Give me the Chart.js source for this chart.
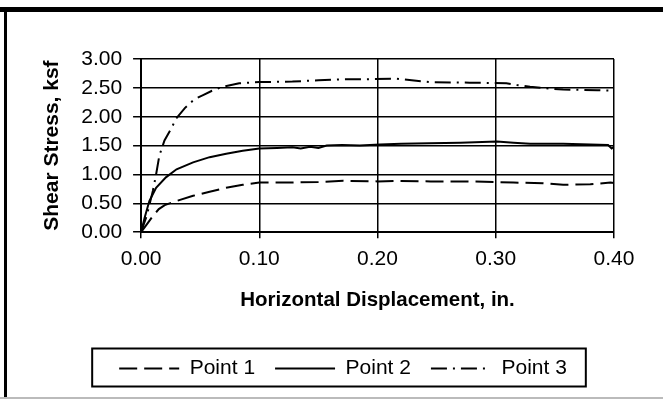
<!DOCTYPE html>
<html>
<head>
<meta charset="utf-8">
<script src="https://cdn.jsdelivr.net/npm/chart.js@4.4.1/dist/chart.umd.min.js"></script>
<style>
  html, body { margin: 0; padding: 0; background: #fff; }
  #wrap { position: relative; width: 663px; height: 399px; }
</style>
</head>
<body>
<div id="wrap"><canvas id="shearChart" width="663" height="399"></canvas></div>
<script>
// values
const seriesNames = ["Point 1", "Point 2", "Point 3"];
const xTicks = [0, 0.1, 0.2, 0.3, 0.4];
const yTicks = [0, 0.5, 1.0, 1.5, 2.0, 2.5, 3.0];

const p1X = [0, 0.005, 0.01, 0.015, 0.02, 0.03, 0.044, 0.058, 0.072, 0.086, 0.10, 0.128, 0.15, 0.171, 0.20, 0.216, 0.245, 0.272, 0.30, 0.315, 0.34, 0.357, 0.38, 0.397, 0.40];
const p1Y = [0, 0.14, 0.28, 0.40, 0.47, 0.54, 0.63, 0.70, 0.77, 0.82, 0.86, 0.86, 0.87, 0.89, 0.88, 0.89, 0.88, 0.88, 0.87, 0.86, 0.85, 0.82, 0.83, 0.86, 0.85];

const p2X = [0, 0.003, 0.007, 0.0127, 0.021, 0.03, 0.044, 0.058, 0.072, 0.086, 0.10, 0.115, 0.128, 0.135, 0.143, 0.15, 0.157, 0.17, 0.185, 0.202, 0.22, 0.244, 0.27, 0.301, 0.315, 0.329, 0.357, 0.38, 0.395, 0.398, 0.40];
const p2Y = [0, 0.25, 0.54, 0.77, 0.95, 1.09, 1.21, 1.30, 1.36, 1.41, 1.45, 1.46, 1.47, 1.45, 1.48, 1.46, 1.50, 1.51, 1.50, 1.52, 1.53, 1.54, 1.55, 1.57, 1.55, 1.53, 1.53, 1.52, 1.51, 1.45, 1.48];

const p3X = [0, 0.005, 0.01, 0.0127, 0.0155, 0.0198, 0.0254, 0.0297, 0.037, 0.045, 0.052, 0.06, 0.069, 0.083, 0.10, 0.128, 0.15, 0.171, 0.19, 0.216, 0.244, 0.278, 0.309, 0.318, 0.329, 0.345, 0.357, 0.386, 0.40];
const p3Y = [0, 0.30, 0.72, 1.00, 1.33, 1.59, 1.79, 1.97, 2.15, 2.30, 2.37, 2.45, 2.52, 2.58, 2.60, 2.61, 2.63, 2.65, 2.65, 2.66, 2.60, 2.59, 2.58, 2.55, 2.52, 2.49, 2.47, 2.46, 2.45];

function pairs(xs, ys) {
  return xs.map((x, i) => ({ x: x, y: ys[i] }));
}

const FONT = "'Liberation Sans', Arial, sans-serif";
const LEGEND_SIZE = 21;
const SAMPLE_W = 60;
const ITEM_GAP = 20;

// scanned frame (thick top and left edges) and the box round the legend
const framePlugin = {
  id: "frame",
  afterLayout(chart) {
    // legend sits a little right of centre in the original
    chart.legend.left += 30;
    chart.legend.right += 30;
  },
  afterDraw(chart) {
    const ctx = chart.ctx;
    ctx.save();
    ctx.fillStyle = "#000";
    ctx.fillRect(0, 7, chart.width, 5);
    ctx.fillRect(4, 7, 3, chart.height - 7);
    ctx.fillStyle = "#bbb";
    ctx.fillRect(0, chart.height - 2, chart.width, 2);

    const lg = chart.legend;
    ctx.font = LEGEND_SIZE + "px " + FONT;
    let total = ITEM_GAP * (seriesNames.length - 1);
    seriesNames.forEach(n => { total += SAMPLE_W + LEGEND_SIZE / 2 + ctx.measureText(n).width; });
    const start = (lg.left + lg.right) / 2 - total / 2;
    const left = start - 27;
    const right = start + total + 19;
    const mid = lg.top + lg.height / 2 + 4;
    ctx.strokeStyle = "#000";
    ctx.lineWidth = 2;
    ctx.strokeRect(left, mid - 19, right - left, 38);
    ctx.restore();
  }
};

new Chart(document.getElementById("shearChart").getContext("2d"), {
  type: "line",
  data: {
    datasets: [
      {
        label: seriesNames[0],
        data: pairs(p1X, p1Y),
        borderColor: "#000",
        borderWidth: 2,
        borderDash: [18, 7],
      },
      {
        label: seriesNames[1],
        data: pairs(p2X, p2Y),
        borderColor: "#000",
        borderWidth: 2,
      },
      {
        label: seriesNames[2],
        data: pairs(p3X, p3Y),
        borderColor: "#000",
        borderWidth: 2,
        borderDash: [16, 6, 2, 6],
      },
    ],
  },
  options: {
    responsive: false,
    animation: false,
    elements: { point: { radius: 0 }, line: { tension: 0 } },
    layout: { padding: { left: 12, right: 49, top: 59, bottom: 10 } },
    plugins: {
      tooltip: { enabled: false },
      legend: {
        position: "bottom",
        labels: {
          color: "#000",
          font: { family: FONT, size: LEGEND_SIZE },
          usePointStyle: true,
          pointStyle: "line",
          pointStyleWidth: SAMPLE_W,
          padding: ITEM_GAP,
          generateLabels(chart) {
            return chart.data.datasets.map((ds, i) => ({
              text: ds.label,
              datasetIndex: i,
              fillStyle: "#000",
              strokeStyle: "#000",
              lineWidth: 2,
              lineDash: ds.borderDash || [],
              pointStyle: "line",
              fontColor: "#000",
              hidden: false,
            }));
          },
        },
      },
    },
    scales: {
      x: {
        type: "linear",
        min: 0,
        max: 0.4,
        afterBuildTicks: (scale) => { scale.ticks = xTicks.map(v => ({ value: v })); },
        ticks: {
          color: "#000",
          font: { family: FONT, size: 21 },
          padding: 8,
          maxRotation: 0,
          callback: (v) => Number(v).toFixed(2),
        },
        grid: { color: "#000", lineWidth: 1.5, tickLength: 6, tickColor: "#000" },
        border: { color: "#000", width: 2 },
        title: {
          display: true,
          text: "Horizontal Displacement, in.",
          color: "#000",
          font: { family: FONT, size: 20.5, weight: "bold" },
          padding: { top: 9, bottom: 25 },
        },
      },
      y: {
        min: 0,
        max: 3,
        afterBuildTicks: (scale) => { scale.ticks = yTicks.map(v => ({ value: v })); },
        ticks: {
          color: "#000",
          font: { family: FONT, size: 21 },
          padding: 11,
          callback: (v) => Number(v).toFixed(2),
        },
        grid: { color: "#000", lineWidth: 1.5, tickLength: 8, tickColor: "#000" },
        border: { color: "#000", width: 2 },
        title: {
          display: true,
          text: "Shear Stress, ksf",
          color: "#000",
          font: { family: FONT, size: 21, weight: "bold" },
          padding: { top: 28, bottom: 5 },
        },
      },
    },
  },
  plugins: [framePlugin],
});
</script>
</body>
</html>
